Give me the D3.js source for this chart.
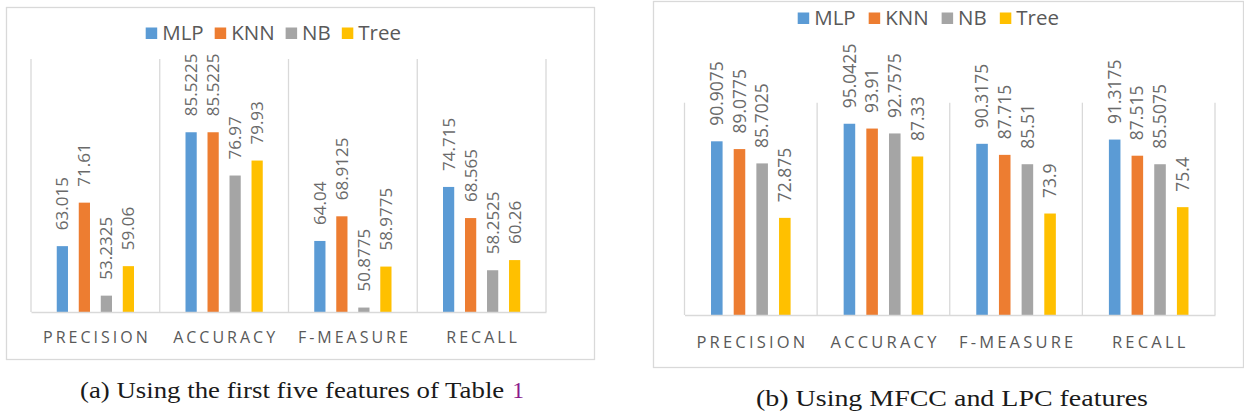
<!DOCTYPE html>
<html><head><meta charset="utf-8">
<script src="https://cdn.jsdelivr.net/npm/d3@7"></script>
<style>body{margin:0;background:#fff} svg{display:block}</style>
</head><body><svg id="c" width="1244" height="415"></svg>
<script>
// ---------- data ----------
const categories = ["PRECISION", "ACCURACY", "F-MEASURE", "RECALL"];
const seriesNames = ["MLP", "KNN", "NB", "Tree"];
const seriesColors = ["#5B9BD5", "#ED7D31", "#A5A5A5", "#FFC000"];
const yDomain = [50, 100];
// (a) first five features
const mlpA  = [63.015, 85.5225, 64.04, 74.715];
const knnA  = [71.61, 85.5225, 68.9125, 68.565];
const nbA   = [53.2325, 76.97, 50.8775, 58.2525];
const treeA = [59.06, 79.93, 58.9775, 60.26];
// (b) MFCC and LPC features
const mlpB  = [90.9075, 95.0425, 90.3175, 91.3175];
const knnB  = [89.0775, 93.91, 87.715, 87.515];
const nbB   = [85.7025, 92.7575, 85.51, 85.5075];
const treeB = [72.875, 87.33, 73.9, 75.4];
const captionA = ["(a) Using the first five features of Table", "1"];
const captionB = ["(b) Using MFCC and LPC features"];

// ---------- layout ----------
const svg = d3.select("#c");
const FONT = "'Open Sans', 'Noto Sans', sans-serif";
const GRID = "#D9D9D9";

const panels = [
  { series: [mlpA, knnA, nbA, treeA],
    box: {x: 6, y: 7, w: 588, h: 352},
    plot: {l: 31, r: 546, t: 59, b: 312},
    legend: {x: 145.7, base: 39.5, size: 20.5, gap: 11},
    cat: {base: 343, size: 16, ls: 3},
    val: {size: 17, gap: 16},
    caption: {parts: captionA, x: 80, right: 524, base: 398} },
  { series: [mlpB, knnB, nbB, treeB],
    box: {x: 653, y: 1, w: 590, h: 366},
    plot: {l: 684.5, r: 1215, t: 102.7, b: 315},
    legend: {x: 797.7, base: 24.5, size: 20.5, gap: 13},
    cat: {base: 348, size: 16.5, ls: 3.2},
    val: {size: 17.5, gap: 15.5},
    caption: {parts: captionB, x: 756, right: 1148, base: 406} }
];

panels.forEach(p => {
  const g = svg.append("g");
  // frame
  g.append("rect").attr("x", p.box.x + 0.5).attr("y", p.box.y + 0.5)
    .attr("width", p.box.w).attr("height", p.box.h)
    .attr("fill", "#fff").attr("stroke", GRID).attr("stroke-width", 1.3);

  const x0 = d3.scaleBand().domain(categories).range([p.plot.l, p.plot.r]).padding(0);
  const bw = x0.bandwidth();
  const x1 = d3.scaleBand().domain(seriesNames).range([0.2 * bw, 0.8 * bw])
    .paddingInner(0.49).paddingOuter(0);
  const y = d3.scaleLinear().domain(yDomain).range([p.plot.b, p.plot.t]);

  // vertical gridlines at category boundaries
  const bounds = categories.map(c => x0(c)).concat([x0.range()[1]]);
  g.append("g").selectAll("line").data(bounds).join("line")
    .attr("x1", d => d).attr("x2", d => d)
    .attr("y1", y(yDomain[1])).attr("y2", y(yDomain[0]))
    .attr("stroke", GRID).attr("stroke-width", 1.3);

  const rows = categories.map((c, i) => ({
    cat: c,
    values: seriesNames.map((s, j) => ({s, v: p.series[j][i], color: seriesColors[j]}))
  }));

  const groups = g.append("g").selectAll("g").data(rows).join("g")
    .attr("transform", d => `translate(${x0(d.cat)},0)`);

  groups.selectAll("rect").data(d => d.values).join("rect")
    .attr("x", d => x1(d.s)).attr("width", x1.bandwidth())
    .attr("y", d => y(d.v)).attr("height", d => y(yDomain[0]) - y(d.v))
    .attr("fill", d => d.color);

  groups.selectAll("text").data(d => d.values).join("text")
    .attr("transform", d => `translate(${x1(d.s) + x1.bandwidth() / 2},${y(d.v) - p.val.gap}) rotate(-90)`)
    .attr("dy", "0.35em")
    .attr("text-anchor", "start")
    .attr("font-family", FONT).attr("font-size", p.val.size)
    .attr("fill", "#6a6a6a")
    .text(d => String(d.v));

  // category axis
  const ax = g.append("g").attr("transform", `translate(0,${y(yDomain[0])})`)
    .call(d3.axisBottom(x0).tickSize(0).tickSizeOuter(0));
  ax.select(".domain").attr("stroke", GRID).attr("stroke-width", 1.3);
  ax.selectAll("text")
    .attr("y", p.cat.base - y(yDomain[0])).attr("dy", 0)
    .attr("dx", p.cat.ls / 2)
    .attr("font-family", FONT).attr("font-size", p.cat.size)
    .attr("letter-spacing", p.cat.ls)
    .attr("fill", "#595959");

  // legend
  const lg = g.append("g");
  let lx = p.legend.x;
  const sq = 11.5;
  seriesNames.forEach((s, j) => {
    lg.append("rect").attr("x", lx).attr("y", p.legend.base - sq - 0.5)
      .attr("width", sq).attr("height", sq).attr("fill", seriesColors[j]);
    const t = lg.append("text").attr("x", lx + sq + 5).attr("y", p.legend.base)
      .attr("font-family", FONT).attr("font-size", p.legend.size)
      .attr("fill", "#595959").text(s);
    lx += sq + 5 + t.node().getComputedTextLength() + p.legend.gap;
  });

  // caption
  const cap = svg.append("g");
  const serif = "'Liberation Serif', 'DejaVu Serif', serif";
  if (p.caption.parts.length > 1) {
    const num = cap.append("text").attr("y", p.caption.base)
      .attr("font-family", serif).attr("font-size", 23.5)
      .attr("fill", "#8B1A8B").text(p.caption.parts[1]);
    const nw = num.node().getComputedTextLength();
    num.attr("x", p.caption.right - nw);
    cap.append("text").attr("x", p.caption.x).attr("y", p.caption.base)
      .attr("font-family", serif).attr("font-size", 23.5).attr("fill", "#1a1a1a")
      .attr("textLength", p.caption.right - nw - 8 - p.caption.x)
      .attr("lengthAdjust", "spacingAndGlyphs")
      .text(p.caption.parts[0]);
  } else {
    cap.append("text").attr("x", p.caption.x).attr("y", p.caption.base)
      .attr("font-family", serif).attr("font-size", 23.5).attr("fill", "#1a1a1a")
      .attr("textLength", p.caption.right - p.caption.x)
      .attr("lengthAdjust", "spacingAndGlyphs")
      .text(p.caption.parts[0]);
  }
});
</script></body></html>
